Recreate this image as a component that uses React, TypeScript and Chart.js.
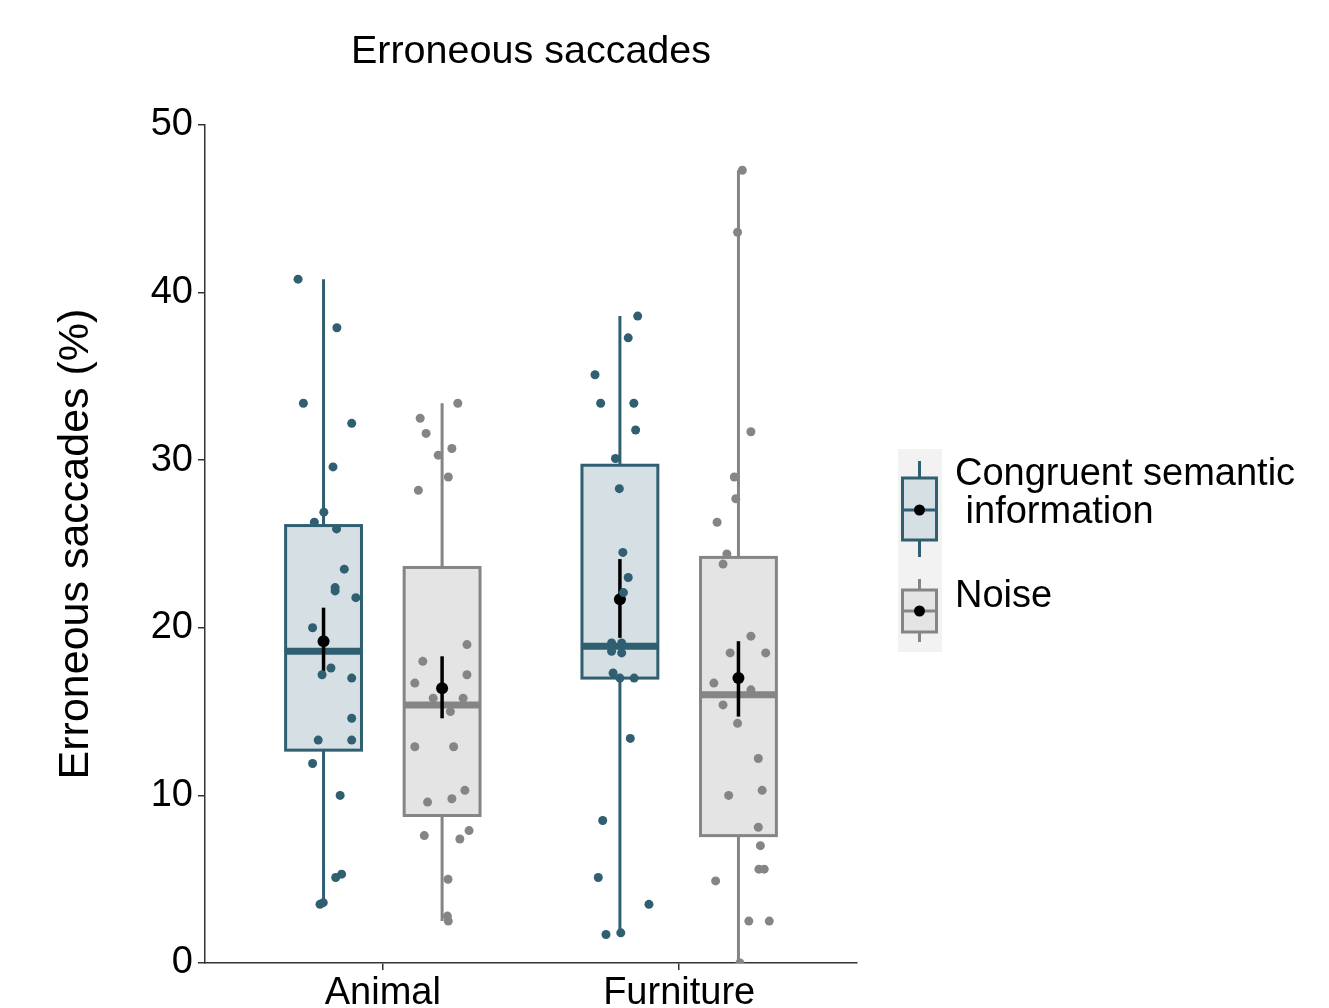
import React, { useEffect, useRef } from 'react';
import { Chart, registerables } from 'chart.js';

Chart.register(...registerables);

// ---------- data ----------
const categories = ['Animal', 'Furniture'];
const titleText = 'Erroneous saccades';
const yTitle = 'Erroneous saccades (%)';
const legendCongruent = ['Congruent semantic', ' information'];
const legendNoise = ['Noise'];
const yTickValues = [0, 10, 20, 30, 40, 50];
const groupOffsets = [-0.2, 0.2]; // congruent, noise

// box statistics, one entry per category
const congruentQ1 = [12.7, 17.0];
const congruentMedian = [18.6, 18.9];
const congruentQ3 = [26.1, 29.7];
const congruentWhiskerLow = [3.5, 1.7];
const congruentWhiskerHigh = [40.8, 38.6];
const congruentMean = [19.2, 21.7];
const congruentErrLow = [17.4, 19.4];
const congruentErrHigh = [21.2, 24.1];

const noiseQ1 = [8.8, 7.6];
const noiseMedian = [15.4, 16.0];
const noiseQ3 = [23.6, 24.2];
const noiseWhiskerLow = [2.5, 0.0];
const noiseWhiskerHigh = [33.4, 47.3];
const noiseMean = [16.4, 17.0];
const noiseErrLow = [14.6, 14.7];
const noiseErrHigh = [18.3, 19.2];

// individual observations (values) and their horizontal jitter
const congruentAnimalValues = [40.8, 37.9, 33.4, 32.2, 29.6, 26.9, 26.3, 25.9, 23.5, 22.4, 22.2, 21.8, 20.0, 17.6, 17.2, 17.0, 14.6, 13.3, 13.3, 11.9, 10.0, 5.1, 5.3, 3.5, 3.6];
const congruentAnimalJitter = [-0.086, 0.045, -0.068, 0.095, 0.032, 0.001, -0.031, 0.044, 0.07, 0.039, 0.039, 0.109, -0.037, 0.025, -0.005, 0.095, 0.095, -0.018, 0.095, -0.037, 0.056, 0.041, 0.061, -0.012, -0.001];

const noiseAnimalValues = [33.4, 32.5, 31.6, 30.7, 30.3, 29.0, 28.2, 19.0, 18.0, 17.2, 16.7, 15.8, 15.8, 15.0, 12.9, 12.9, 10.3, 9.8, 9.6, 7.6, 7.9, 7.4, 5.0, 2.8, 2.5];
const noiseAnimalJitter = [0.053, -0.074, -0.054, 0.033, -0.013, 0.021, -0.08, 0.084, -0.065, 0.084, -0.092, -0.03, 0.071, 0.028, -0.092, 0.039, 0.077, 0.033, -0.049, -0.06, 0.091, 0.06, 0.02, 0.018, 0.021];

const congruentFurnitureValues = [38.6, 37.3, 35.1, 33.4, 33.4, 31.8, 30.1, 28.3, 24.5, 23.0, 22.1, 19.1, 19.1, 18.6, 18.5, 17.3, 17.0, 17.0, 13.4, 8.5, 5.1, 3.5, 1.7, 1.8];
const congruentFurnitureJitter = [0.06, 0.028, -0.084, -0.065, 0.047, 0.053, -0.015, -0.002, 0.01, 0.028, 0.012, -0.028, 0.006, -0.028, 0.006, -0.023, 0.0, 0.048, 0.035, -0.058, -0.073, 0.098, -0.047, 0.003];

const noiseFurnitureValues = [47.3, 43.6, 31.7, 29.0, 27.7, 26.3, 24.4, 23.8, 19.5, 18.5, 18.5, 16.7, 16.3, 15.4, 14.3, 12.2, 10.0, 10.3, 8.1, 7.0, 5.6, 5.6, 4.9, 2.5, 2.5, 0.0];
const noiseFurnitureJitter = [0.013, -0.003, 0.042, -0.014, -0.009, -0.072, -0.039, -0.052, 0.042, -0.028, 0.092, -0.083, 0.042, -0.052, -0.003, 0.067, -0.033, 0.08, 0.067, 0.074, 0.069, 0.087, -0.077, 0.035, 0.104, 0.005];

// ---------- styles ----------
const FONT = "'Liberation Sans', Arial, sans-serif";
const TEAL = '#2f5f71';
const TEAL_FILL = '#d6dfe4';
const GREY = '#858585';
const GREY_FILL = '#e4e4e4';
const AXIS = '#333333';
const BOX_HALF = 0.128;

const series = [
  { stroke: TEAL, fill: TEAL_FILL, q1: congruentQ1, med: congruentMedian, q3: congruentQ3, lo: congruentWhiskerLow, hi: congruentWhiskerHigh, mean: congruentMean, eLo: congruentErrLow, eHi: congruentErrHigh },
  { stroke: GREY, fill: GREY_FILL, q1: noiseQ1, med: noiseMedian, q3: noiseQ3, lo: noiseWhiskerLow, hi: noiseWhiskerHigh, mean: noiseMean, eLo: noiseErrLow, eHi: noiseErrHigh },
];

const pointsFor = (values: number[], jitter: number[], cat: number, s: number) =>
  values.map((v, i) => ({ x: cat + 1 + groupOffsets[s] + jitter[i], y: v }));

const boxPlugin = {
  id: 'boxes',
  beforeDatasetsDraw(chart: any) {
    const { ctx, scales } = chart;
    const x = scales.x;
    const y = scales.y;
    ctx.save();
    series.forEach((s, si) => {
      categories.forEach((_, ci) => {
        const cv = ci + 1 + groupOffsets[si];
        const cx = x.getPixelForValue(cv);
        const hw = x.getPixelForValue(cv + BOX_HALF) - cx;
        const yq1 = y.getPixelForValue(s.q1[ci]);
        const yq3 = y.getPixelForValue(s.q3[ci]);
        const ym = y.getPixelForValue(s.med[ci]);
        ctx.strokeStyle = s.stroke;
        ctx.lineWidth = 3;
        ctx.lineCap = 'butt';
        ctx.beginPath();
        ctx.moveTo(cx, y.getPixelForValue(s.lo[ci]));
        ctx.lineTo(cx, yq1);
        ctx.moveTo(cx, yq3);
        ctx.lineTo(cx, y.getPixelForValue(s.hi[ci]));
        ctx.stroke();
        ctx.fillStyle = s.fill;
        ctx.fillRect(cx - hw, yq3, 2 * hw, yq1 - yq3);
        ctx.strokeRect(cx - hw, yq3, 2 * hw, yq1 - yq3);
        ctx.lineWidth = 7;
        ctx.beginPath();
        ctx.moveTo(cx - hw, ym);
        ctx.lineTo(cx + hw, ym);
        ctx.stroke();
      });
    });
    ctx.restore();
  },
  beforeDatasetDraw(chart: any, args: any) {
    if (args.index !== 4) return;
    const { ctx, scales } = chart;
    const x = scales.x;
    const y = scales.y;
    ctx.save();
    ctx.strokeStyle = '#000';
    ctx.lineWidth = 3.5;
    series.forEach((s, si) => {
      categories.forEach((_, ci) => {
        const cx = x.getPixelForValue(ci + 1 + groupOffsets[si]);
        ctx.beginPath();
        ctx.moveTo(cx, y.getPixelForValue(s.eLo[ci]));
        ctx.lineTo(cx, y.getPixelForValue(s.eHi[ci]));
        ctx.stroke();
      });
    });
    ctx.restore();
  },
  afterDraw(chart: any) {
    const { ctx, chartArea } = chart;
    const lx = chartArea.right + 41;
    ctx.save();
    ctx.fillStyle = '#f2f2f2';
    ctx.fillRect(lx, 449, 44, 203);
    const keys = [
      { s: series[0], wt: 461, top: 478, bot: 540, wb: 557, mid: 510, lines: legendCongruent, base: 485 },
      { s: series[1], wt: 579, top: 590, bot: 632, wb: 642, mid: 611, lines: legendNoise, base: 607 },
    ];
    const kx = lx + 21.5;
    keys.forEach((k) => {
      ctx.strokeStyle = k.s.stroke;
      ctx.lineWidth = 3;
      ctx.beginPath();
      ctx.moveTo(kx, k.wt);
      ctx.lineTo(kx, k.top);
      ctx.moveTo(kx, k.bot);
      ctx.lineTo(kx, k.wb);
      ctx.stroke();
      ctx.fillStyle = k.s.fill;
      ctx.fillRect(kx - 17, k.top, 34, k.bot - k.top);
      ctx.strokeRect(kx - 17, k.top, 34, k.bot - k.top);
      ctx.beginPath();
      ctx.moveTo(kx - 17, k.mid);
      ctx.lineTo(kx + 17, k.mid);
      ctx.stroke();
      ctx.fillStyle = '#000';
      ctx.beginPath();
      ctx.arc(kx, k.mid, 5.5, 0, Math.PI * 2);
      ctx.fill();
      ctx.font = `38px ${FONT}`;
      ctx.textBaseline = 'alphabetic';
      ctx.textAlign = 'left';
      k.lines.forEach((t, i) => ctx.fillText(t, lx + 57, k.base + i * 38));
    });
    ctx.restore();
  },
};

export default function App() {
  const ref = useRef<HTMLCanvasElement | null>(null);
  useEffect(() => {
    if (!ref.current) return;
    Chart.defaults.font.family = FONT;
    const scatterDs = (data: any[], color: string) => ({
      type: 'scatter' as const,
      data,
      pointRadius: 4.5,
      pointHoverRadius: 4.5,
      pointBackgroundColor: color,
      pointBorderWidth: 0,
      borderColor: color,
      showLine: false,
    });
    const meanData: any[] = [];
    series.forEach((s, si) => categories.forEach((_, ci) => meanData.push({ x: ci + 1 + groupOffsets[si], y: s.mean[ci] })));
    const chart = new Chart(ref.current, {
      type: 'scatter',
      data: {
        datasets: [
          scatterDs(pointsFor(congruentAnimalValues, congruentAnimalJitter, 0, 0), TEAL),
          scatterDs(pointsFor(noiseAnimalValues, noiseAnimalJitter, 0, 1), GREY),
          scatterDs(pointsFor(congruentFurnitureValues, congruentFurnitureJitter, 1, 0), TEAL),
          scatterDs(pointsFor(noiseFurnitureValues, noiseFurnitureJitter, 1, 1), GREY),
          { ...scatterDs(meanData, '#000'), pointRadius: 6, pointHoverRadius: 6 },
        ],
      },
      options: {
        animation: false,
        responsive: false,
        events: [],
        layout: { padding: { left: 0, right: 472, top: 0, bottom: 0 } },
        plugins: {
          legend: { display: false },
          tooltip: { enabled: false },
          title: {
            display: true,
            text: titleText,
            fullSize: false,
            color: '#000',
            font: { size: 39.5, weight: 'normal', family: FONT, lineHeight: 1.2 },
            padding: { top: 28, bottom: 49.6 },
          },
        },
        scales: {
          x: {
            type: 'linear',
            min: 0.4,
            max: 2.6,
            afterBuildTicks: (scale: any) => {
              scale.ticks = categories.map((_, i) => ({ value: i + 1 }));
            },
            afterFit: (scale: any) => {
              scale.height = 45;
            },
            ticks: {
              autoSkip: false,
              color: '#000',
              font: { size: 38, family: FONT },
              padding: 1,
              callback: (v: any) => categories[Number(v) - 1] ?? '',
            },
            grid: { drawOnChartArea: false, drawTicks: true, tickLength: 7, color: AXIS, lineWidth: 1.5 },
            border: { display: true, color: AXIS, width: 1.5 },
          },
          y: {
            type: 'linear',
            min: 0,
            max: 50,
            afterBuildTicks: (scale: any) => {
              scale.ticks = yTickValues.map((v) => ({ value: v }));
            },
            afterFit: (scale: any) => {
              scale.width = 205;
            },
            ticks: { color: '#000', font: { size: 38, family: FONT }, padding: 5 },
            grid: { drawOnChartArea: false, drawTicks: true, tickLength: 7, color: AXIS, lineWidth: 1.5 },
            border: { display: true, color: AXIS, width: 1.5 },
            title: {
              display: true,
              text: yTitle,
              color: '#000',
              font: { size: 43, family: FONT },
              padding: { top: 50, bottom: 0 },
            },
          },
        },
      },
      plugins: [boxPlugin],
    } as any);
    return () => chart.destroy();
  }, []);
  return (
    <div style={{ position: 'fixed', left: 0, top: 0, width: 1329, height: 1008, background: '#fff' }}>
      <canvas ref={ref} width={1329} height={1008} />
    </div>
  );
}
